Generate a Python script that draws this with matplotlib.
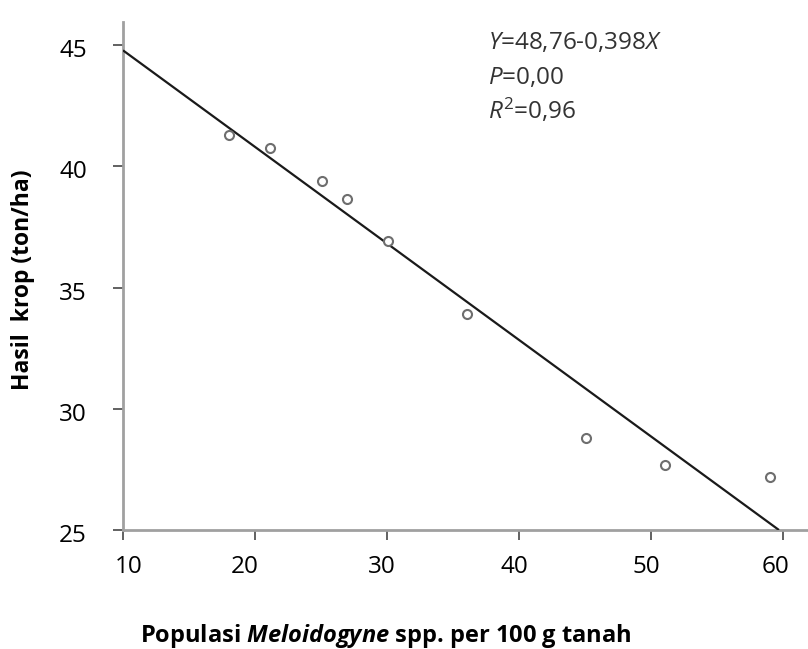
import matplotlib
matplotlib.use("Agg")
import matplotlib.pyplot as plt
from matplotlib.transforms import ScaledTranslation
import numpy as np

# ---- data ----
populasi = [18.0, 21.1, 25.1, 27.0, 30.1, 36.1, 45.1, 51.1, 59.0]
hasil = [41.3, 40.75, 39.4, 38.65, 36.9, 33.9, 28.8, 27.7, 27.2]
intercept = 48.76
slope = -0.398
x_ticks = [10, 20, 30, 40, 50, 60]
y_ticks = [25, 30, 35, 40, 45]

plt.rcParams['font.family'] = ['Open Sans', 'DejaVu Sans']
plt.rcParams['mathtext.fontset'] = 'custom'
plt.rcParams['mathtext.rm'] = 'Open Sans'
plt.rcParams['mathtext.it'] = 'Open Sans:italic'
plt.rcParams['mathtext.bf'] = 'Open Sans:bold'
plt.rcParams['mathtext.bfit'] = 'Open Sans:italic:bold'

W, H = 808, 649
fig = plt.figure(figsize=(W / 100, H / 100), dpi=100)
ax = fig.add_axes([123 / W, (H - 530) / H, (W - 123) / W, (530 - 22) / H])

ax.set_xlim(10, 61.9)
ax.set_ylim(25, 45.95)

# regression line from x=10 to where it meets y=25
x0 = 10
x1 = (25 - intercept) / slope
xs = np.array([x0, x1])
ax.plot(xs, intercept + slope * xs, color='#1a1a1a', lw=1.6, zorder=3, solid_capstyle='butt')

ax.plot(populasi, hasil, linestyle='none', marker='o', markersize=6.5,
        markerfacecolor='white', markeredgecolor='#6e6e6e', markeredgewidth=1.5, zorder=4)

for s in ['top', 'right']:
    ax.spines[s].set_visible(False)
for s in ['left', 'bottom']:
    ax.spines[s].set_color('#a0a0a0')
    ax.spines[s].set_linewidth(2.0)

ax.set_xticks(x_ticks)
ax.set_yticks(y_ticks)
ax.tick_params(axis='both', direction='out', length=7, width=1.3, color='#555555',
               labelsize=17.5, labelcolor='black')
ax.tick_params(axis='x', pad=11)
ax.tick_params(axis='y', pad=19)

fig.canvas.draw()
offsets = [6, -10, -5, -5, -5, -7]
for lab, off in zip(ax.get_xticklabels(), offsets):
    lab.set_transform(lab.get_transform() + ScaledTranslation(off / 100, 0, fig.dpi_scale_trans))
for lab in ax.get_yticklabels():
    lab.set_transform(lab.get_transform() + ScaledTranslation(0, -3 / 100, fig.dpi_scale_trans))

# axis labels
fig.text(386 / W, 1 - 642 / H, r'Populasi $\mathbfit{Meloidogyne}$ spp. per 100 g tanah',
         ha='center', va='baseline', fontsize=17, fontweight='bold')
fig.text(23 / W, 1 - 280 / H, 'Hasil  krop (ton/ha)', rotation=90,
         ha='center', va='center', fontsize=16.5, fontweight='bold')

# annotation
fs = 17.5
fig.text(488 / W, 1 - 49 / H, r'$Y$=48,76-0,398$X$', ha='left', va='baseline', fontsize=fs, color='#333333')
fig.text(488 / W, 1 - 84 / H, r'$P$=0,00', ha='left', va='baseline', fontsize=fs, color='#333333')
fig.text(488 / W, 1 - 119 / H, r'$R^{2}$=0,96', ha='left', va='baseline', fontsize=fs, color='#333333')

fig.savefig('out.png', dpi=100)
